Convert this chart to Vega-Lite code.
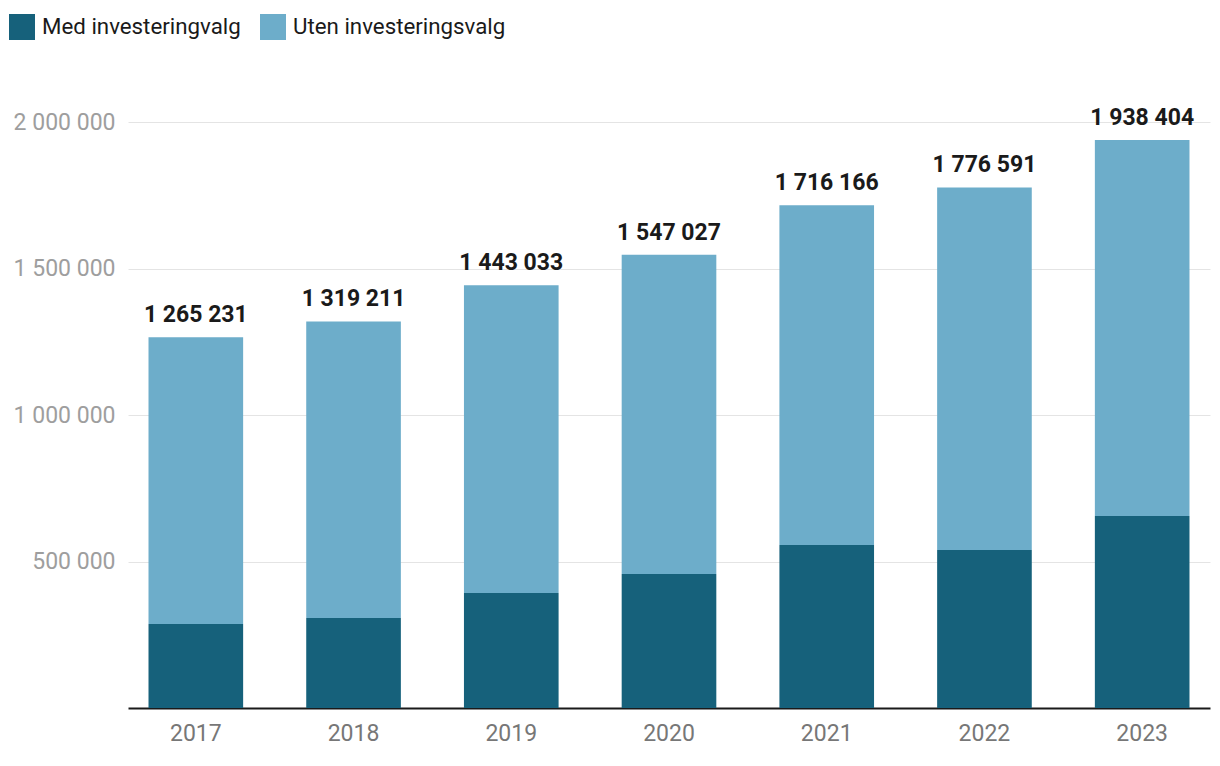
{
  "$schema": "https://vega.github.io/schema/vega-lite/v6.json",
  "width": 1082,
  "height": 586,
  "autosize": "none",
  "padding": {"left": 128, "top": 122, "right": 10, "bottom": 58},
  "background": "white",
  "config": {
    "locale": {"number": {"decimal": ",", "thousands": " ", "grouping": [3], "currency": ["", " kr"]}},
    "font": "Roboto",
    "view": {"stroke": null}
  },
  "data": {
    "values": [
      {"year": "2017", "type": "Med investeringvalg", "value": 286700},
      {"year": "2017", "type": "Uten investeringsvalg", "value": 978531},
      {"year": "2018", "type": "Med investeringvalg", "value": 307200},
      {"year": "2018", "type": "Uten investeringsvalg", "value": 1012011},
      {"year": "2019", "type": "Med investeringvalg", "value": 392500},
      {"year": "2019", "type": "Uten investeringsvalg", "value": 1050533},
      {"year": "2020", "type": "Med investeringvalg", "value": 457300},
      {"year": "2020", "type": "Uten investeringsvalg", "value": 1089727},
      {"year": "2021", "type": "Med investeringvalg", "value": 556300},
      {"year": "2021", "type": "Uten investeringsvalg", "value": 1159866},
      {"year": "2022", "type": "Med investeringvalg", "value": 539200},
      {"year": "2022", "type": "Uten investeringsvalg", "value": 1237391},
      {"year": "2023", "type": "Med investeringvalg", "value": 655300},
      {"year": "2023", "type": "Uten investeringsvalg", "value": 1283104}
    ]
  },
  "encoding": {
    "x": {
      "field": "year",
      "type": "nominal",
      "scale": {"paddingInner": 0.4, "paddingOuter": 0.13},
      "axis": {
        "title": null,
        "labelAngle": 0,
        "labelFont": "Roboto",
        "labelFontSize": 23,
        "labelColor": "#777777",
        "labelPadding": 14,
        "ticks": false,
        "domainColor": "#1a1a1a",
        "domainWidth": 2,
        "grid": false
      }
    },
    "y": {
      "field": "value",
      "type": "quantitative",
      "aggregate": "sum",
      "scale": {"domain": [0, 2000000], "nice": false},
      "axis": {
        "title": null,
        "values": [500000, 1000000, 1500000, 2000000],
        "format": ",d",
        "labelFont": "Roboto",
        "labelFontSize": 23,
        "labelColor": "#9e9e9e",
        "labelPadding": 13,
        "ticks": false,
        "domain": false,
        "grid": true,
        "gridColor": "#e4e4e4",
        "gridWidth": 1
      }
    }
  },
  "layer": [
    {
      "mark": {"type": "bar"},
      "encoding": {
        "color": {
          "field": "type",
          "type": "nominal",
          "scale": {"domain": ["Med investeringvalg", "Uten investeringsvalg"], "range": ["#16617b", "#6dadca"]},
          "legend": {
            "title": null,
            "orient": "none",
            "legendX": -119,
            "legendY": -108,
            "direction": "horizontal",
            "padding": 0,
            "symbolType": "square",
            "symbolSize": 676,
            "symbolStrokeWidth": 0,
            "symbolOpacity": 1,
            "labelFont": "Roboto",
            "labelFontSize": 22.3,
            "labelColor": "#1a1a1a",
            "labelOffset": 7,
            "columnPadding": 19,
            "labelLimit": 400
          }
        },
        "order": {"field": "type", "sort": "ascending"}
      }
    },
    {
      "mark": {"type": "text", "baseline": "alphabetic", "dy": -15, "fontWeight": "bold", "fontSize": 23, "font": "Roboto", "color": "#1a1a1a"},
      "encoding": {
        "text": {"field": "value", "type": "quantitative", "aggregate": "sum", "format": ","}
      }
    }
  ]
}
